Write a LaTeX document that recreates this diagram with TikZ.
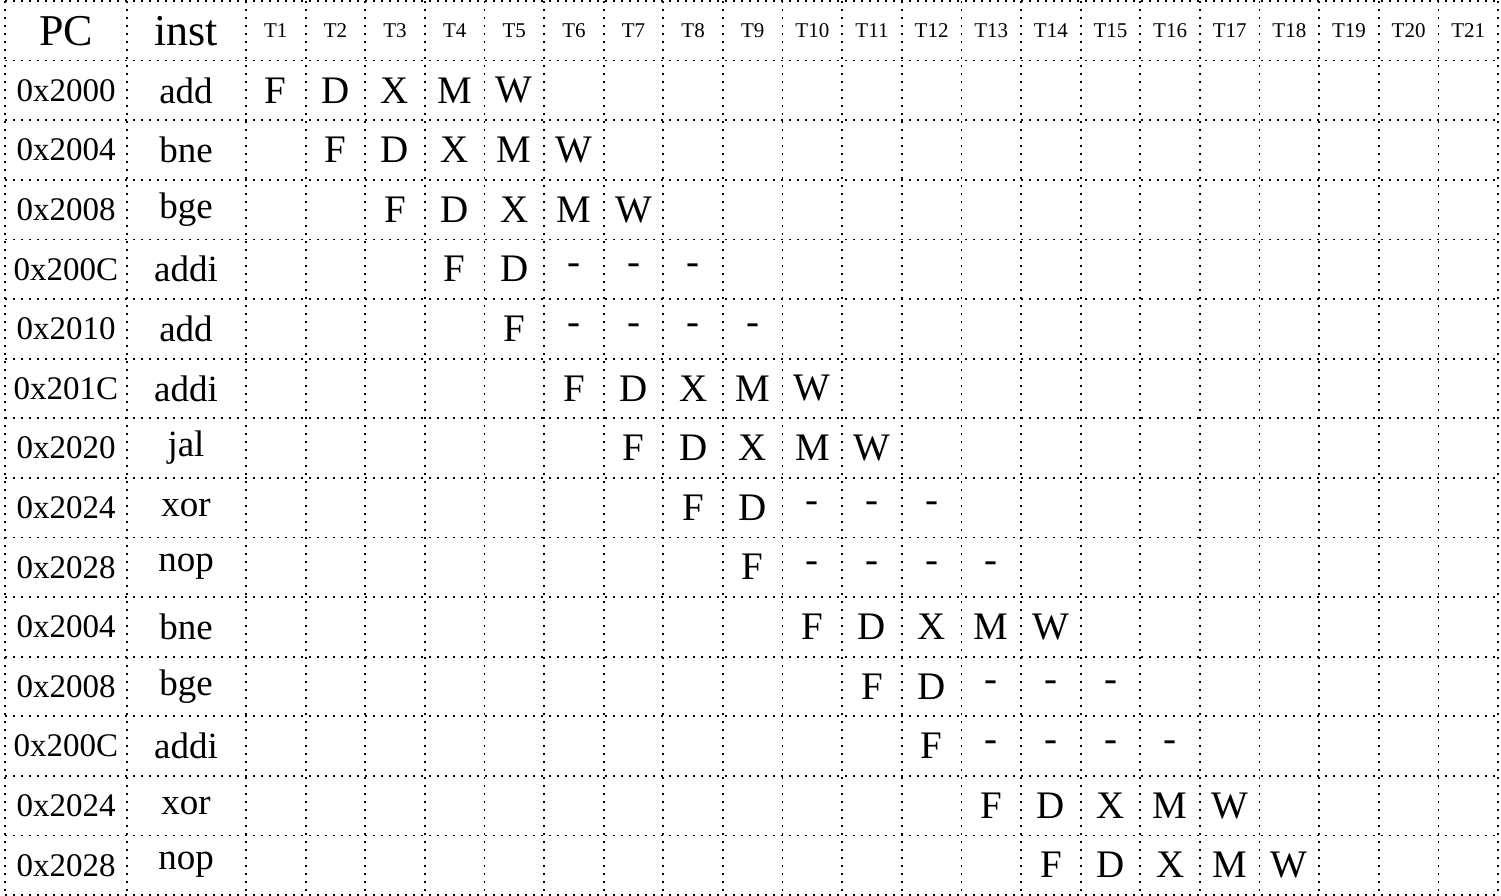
\documentclass[tikz,border=0pt]{standalone}
\usepackage{fontspec}
\setmainfont{Liberation Serif}
\tikzset{
  gridline/.style={line width=1.8pt, dash pattern=on 1.8pt off 6.2pt, black},
  hdr/.style={font=\fontsize{44}{44}\selectfont},
  tlab/.style={font=\fontsize{21}{21}\selectfont},
  pcval/.style={font=\fontsize{33}{33}\selectfont},
  insval/.style={font=\fontsize{37}{37}\selectfont},
  stage/.style={font=\fontsize{39}{39}\selectfont},
}
\begin{document}
\begin{tikzpicture}[x=1pt,y=-1pt]
\useasboundingbox (0,0) rectangle (1501,896);
\def\rh{59.6}
\def\cw{59.62}
% horizontal grid lines
\foreach \r in {0,...,15}
  \draw[gridline] (5,{1+\r*\rh}) -- (1498,{1+\r*\rh});
% vertical grid lines
\foreach \xx in {5,127,246}
  \draw[gridline] (\xx,1) -- (\xx,895);
\foreach \k in {1,...,21}
  \draw[gridline] ({246+\k*\cw},1) -- ({246+\k*\cw},895);
% header
\node[hdr] (hpc) at (66,{1+0.5*\rh}) {PC};
\node[hdr] (hinst) at (186,{1+0.5*\rh}) {inst};
\foreach \k in {1,...,21}
  \node[tlab] (t\k) at ({246+(\k-0.5)*\cw},{1+0.5*\rh}) {T\k};
% rows
\foreach \r/\pc/\ins/\st/\seq in {
  1/0x2000/add/1/{F,D,X,M,W},
  2/0x2004/bne/2/{F,D,X,M,W},
  3/0x2008/bge/3/{F,D,X,M,W},
  4/0x200C/addi/4/{F,D,-,-,-},
  5/0x2010/add/5/{F,-,-,-,-},
  6/0x201C/addi/6/{F,D,X,M,W},
  7/0x2020/jal/7/{F,D,X,M,W},
  8/0x2024/xor/8/{F,D,-,-,-},
  9/0x2028/nop/9/{F,-,-,-,-},
  10/0x2004/bne/10/{F,D,X,M,W},
  11/0x2008/bge/11/{F,D,-,-,-},
  12/0x200C/addi/12/{F,-,-,-,-},
  13/0x2024/xor/13/{F,D,X,M,W},
  14/0x2028/nop/14/{F,D,X,M,W}}
{
  \node[pcval] (pc\r) at (66,{1+(\r+0.5)*\rh}) {\pc};
  \node[insval] (in\r) at (186,{1+(\r+0.5)*\rh}) {\ins};
  \foreach \s [count=\i from 0] in \seq {
    \pgfmathtruncatemacro{\cc}{\st+\i}
    \node[stage] (s\r-\cc) at ({246+(\cc-0.5)*\cw},{1+(\r+0.5)*\rh}) {\s};
  }
}
\end{tikzpicture}
\end{document}
